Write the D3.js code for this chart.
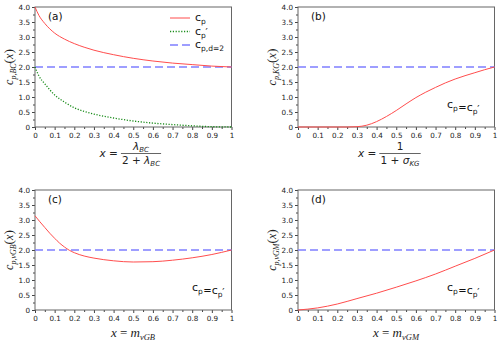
<!DOCTYPE html>
<html>
<head>
<meta charset="utf-8">
<script src="https://cdn.jsdelivr.net/npm/d3@7"></script>
<style>
  body { margin: 0; background: #fff; }
  svg text { font-family: "DejaVu Sans", sans-serif; }
  .math { font-family: "Liberation Serif", serif; font-style: italic; }
</style>
</head>
<body>
<div id="chart"></div>
<script>
// values
const xsA = [0, 0.02, 0.05, 0.1, 0.15, 0.2, 0.25, 0.3, 0.4, 0.5, 0.6, 0.7, 0.8, 0.9, 1];
const cpA = [4.0, 3.72, 3.45, 3.13, 2.93, 2.78, 2.66, 2.56, 2.41, 2.29, 2.2, 2.13, 2.08, 2.03, 2.0];
const cpPrimeA = [2.0, 1.7, 1.44, 1.07, 0.83, 0.64, 0.52, 0.43, 0.3, 0.2, 0.13, 0.08, 0.04, 0.01, 0];

const xsB = [0, 0.1, 0.2, 0.25, 0.3, 0.35, 0.4, 0.45, 0.5, 0.55, 0.6, 0.65, 0.7, 0.75, 0.8, 0.85, 0.9, 0.95, 1];
const cpB = [0, 0, 0, 0, 0.01, 0.06, 0.18, 0.35, 0.55, 0.77, 0.98, 1.16, 1.32, 1.47, 1.6, 1.71, 1.81, 1.91, 2.0];

const xsC = [0, 0.025, 0.05, 0.075, 0.1, 0.125, 0.15, 0.175, 0.2, 0.25, 0.3, 0.4, 0.5, 0.6, 0.7, 0.8, 0.9, 1];
const cpC = [3.14, 2.94, 2.75, 2.56, 2.39, 2.23, 2.1, 1.99, 1.91, 1.8, 1.73, 1.64, 1.6, 1.61, 1.66, 1.74, 1.85, 2.0];

const xsD = [0, 0.1, 0.2, 0.3, 0.4, 0.5, 0.6, 0.7, 0.8, 0.9, 1];
const cpD = [0, 0.07, 0.2, 0.38, 0.56, 0.76, 0.97, 1.2, 1.46, 1.72, 2.0];

const cpd2 = 2.0;
const xTicks = [0, 0.1, 0.2, 0.3, 0.4, 0.5, 0.6, 0.7, 0.8, 0.9, 1];
const yTicks = [0, 0.5, 1.0, 1.5, 2.0, 2.5, 3.0, 3.5, 4.0];

const W = 500, H = 342;
const svg = d3.select('#chart').append('svg').attr('width', W).attr('height', H);

const panels = [
  {tag: '(a)', left: 35, top: 7, sub: 'p,BC', xs: xsA, series: [{v: cpA, kind: 'cp'}, {v: cpPrimeA, kind: 'cpp'}], legend: true},
  {tag: '(b)', left: 298, top: 7, sub: 'p,KG', xs: xsB, series: [{v: cpB, kind: 'cp'}], note: [465, 108]},
  {tag: '(c)', left: 35, top: 190, sub: 'p,vGB', xs: xsC, series: [{v: cpC, kind: 'cp'}], note: [210, 291]},
  {tag: '(d)', left: 298, top: 190, sub: 'p,vGM', xs: xsD, series: [{v: cpD, kind: 'cp'}], note: [465, 291]}
];
const pw = 196.5, ph = 120;

const styles = {
  cp: {stroke: '#ff4d4d', width: 1, dash: null},
  cpp: {stroke: '#1a8c1a', width: 1.3, dash: '1.2,1.6'},
  d2: {stroke: '#7f7fff', width: 1.5, dash: '8,4'}
};

// c with subscript p, optionally primed, as one text element
function cpTspans(t, prime, sub) {
  t.append('tspan').text('c');
  t.append('tspan').attr('dy', 3).attr('font-size', 7.5).text(sub);
  if (prime) {
    t.append('tspan').attr('dx', -0.3).attr('dy', -1.5).attr('font-size', 10).text('\u2032');
    t.append('tspan').attr('dy', -1.5).attr('font-size', 11).text('');
  } else {
    t.append('tspan').attr('dy', -3).attr('font-size', 11).text('');
  }
}

panels.forEach(p => {
  const g = svg.append('g').attr('transform', `translate(${p.left},${p.top})`);
  const x = d3.scaleLinear().domain([0, 1]).range([0, pw]);
  const y = d3.scaleLinear().domain([0, 4]).range([ph, 0]);

  // minor ticks
  g.append('g').attr('transform', `translate(0,${ph})`)
    .call(d3.axisBottom(x).tickValues(d3.range(0.05, 1, 0.1)).tickSize(2).tickFormat(''))
    .call(a => a.select('.domain').remove())
    .call(a => a.selectAll('line').attr('stroke', '#444'));
  g.append('g')
    .call(d3.axisLeft(y).tickValues(d3.range(0.25, 4, 0.5)).tickSize(2).tickFormat(''))
    .call(a => a.select('.domain').remove())
    .call(a => a.selectAll('line').attr('stroke', '#444'));

  const xa = g.append('g').attr('transform', `translate(0,${ph})`)
    .call(d3.axisBottom(x).tickValues(xTicks).tickSize(3).tickPadding(3)
      .tickFormat(d => d === 0 ? '0' : d === 1 ? '1' : d3.format('.1f')(d)));
  const ya = g.append('g')
    .call(d3.axisLeft(y).tickValues(yTicks).tickSize(3).tickPadding(2)
      .tickFormat(d => d === 0 ? '0' : d3.format('.1f')(d)));
  [xa, ya].forEach(a => {
    a.select('.domain').remove();
    a.selectAll('line').attr('stroke', '#444');
    a.selectAll('text').attr('font-size', 7.2).attr('fill', '#222').attr('font-family', 'DejaVu Sans');
  });

  // frame
  g.append('rect').attr('width', pw).attr('height', ph)
    .attr('fill', 'none').attr('stroke', '#666').attr('stroke-width', 1);

  // c_p,d=2 reference
  g.append('line').attr('x1', x(0)).attr('x2', x(1)).attr('y1', y(cpd2)).attr('y2', y(cpd2))
    .attr('stroke', styles.d2.stroke).attr('stroke-width', styles.d2.width)
    .attr('stroke-dasharray', styles.d2.dash);

  const line = d3.line().x((d, i) => x(p.xs[i])).y(d => y(d)).curve(d3.curveMonotoneX);
  p.series.forEach(s => {
    const st = styles[s.kind];
    g.append('path').datum(s.v).attr('d', line)
      .attr('fill', 'none').attr('stroke', st.stroke).attr('stroke-width', st.width)
      .attr('stroke-dasharray', st.dash);
  });

  g.append('text').attr('x', 13).attr('y', 13).attr('font-size', 10.5).attr('fill', '#111').text(p.tag);

  // y axis label
  const yl = g.append('text').attr('class', 'math')
    .attr('transform', `translate(-22,${ph / 2}) rotate(-90)`)
    .attr('text-anchor', 'middle').attr('font-size', 12).attr('fill', '#222');
  yl.append('tspan').text('c');
  yl.append('tspan').attr('font-size', 8).attr('dy', 3).text(p.sub);
  yl.append('tspan').attr('dy', -3).attr('font-style', 'normal').attr('font-size', 13.5).text('(');
  yl.append('tspan').text('x');
  yl.append('tspan').attr('font-style', 'normal').attr('font-size', 13.5).text(')');

  if (p.legend) {
    const items = [['cp', false, 'p'], ['cpp', true, 'p'], ['d2', false, 'p,d=2']];
    items.forEach((it, i) => {
      const ly = 11 + i * 13.5;
      const st = styles[it[0]];
      g.append('line').attr('x1', 135).attr('x2', 155).attr('y1', ly).attr('y2', ly)
        .attr('stroke', st.stroke).attr('stroke-width', st.width)
        .attr('stroke-dasharray', st.dash);
      const t = g.append('text').attr('x', 160).attr('y', ly + 3).attr('font-size', 11).attr('fill', '#111');
      cpTspans(t, it[1], it[2]);
    });
  }
  if (p.note) {
    const nx = p.note[0] - p.left - 18, ny = p.note[1] - p.top;
    const t = g.append('text').attr('x', nx).attr('y', ny).attr('font-size', 11).attr('fill', '#111');
    cpTspans(t, false, 'p');
    t.append('tspan').attr('dx', 0.5).attr('font-size', 10).text('=');
    cpTspans(t, true, 'p');
  }
});

// x axis labels
function fracLabel(cx, num, den) {
  const g = svg.append('g').attr('class', 'math').attr('font-size', 10.5).attr('fill', '#222');
  const n = g.append('text').attr('x', cx).attr('y', 150).attr('text-anchor', 'middle');
  num(n);
  const d = g.append('text').attr('x', cx).attr('y', 163.5).attr('text-anchor', 'middle');
  den(d);
  const hw = d.node().getBBox().width / 2 + 1;
  g.append('line').attr('x1', cx - hw).attr('x2', cx + hw).attr('y1', 153.5).attr('y2', 153.5)
    .attr('stroke', '#222').attr('stroke-width', 0.7);
  g.append('text').attr('x', cx - hw - 3).attr('y', 157).attr('text-anchor', 'end').text('x').append('tspan')
    .attr('font-style', 'normal').text(' =');
}
fracLabel(141, n => {
  n.append('tspan').text('\u03bb');
  n.append('tspan').attr('font-size', 7).attr('dy', 2).text('BC');
}, d => {
  d.append('tspan').attr('font-style', 'normal').text('2 + ');
  d.append('tspan').text('\u03bb');
  d.append('tspan').attr('font-size', 7).attr('dy', 2).text('BC');
});
fracLabel(400, n => {
  n.append('tspan').attr('font-style', 'normal').text('1');
}, d => {
  d.append('tspan').attr('font-style', 'normal').text('1 + ');
  d.append('tspan').text('\u03c3');
  d.append('tspan').attr('font-size', 7).attr('dy', 2).text('KG');
});

function mLabel(cx, sub) {
  const t = svg.append('text').attr('class', 'math').attr('x', cx).attr('y', 337)
    .attr('text-anchor', 'middle').attr('font-size', 13).attr('fill', '#222');
  t.append('tspan').text('x');
  t.append('tspan').attr('font-style', 'normal').text(' = ');
  t.append('tspan').text('m');
  t.append('tspan').attr('font-size', 8.5).attr('dy', 2.5).text(sub);
}
mLabel(133, 'vGB');
mLabel(396, 'vGM');
</script>
</body>
</html>
